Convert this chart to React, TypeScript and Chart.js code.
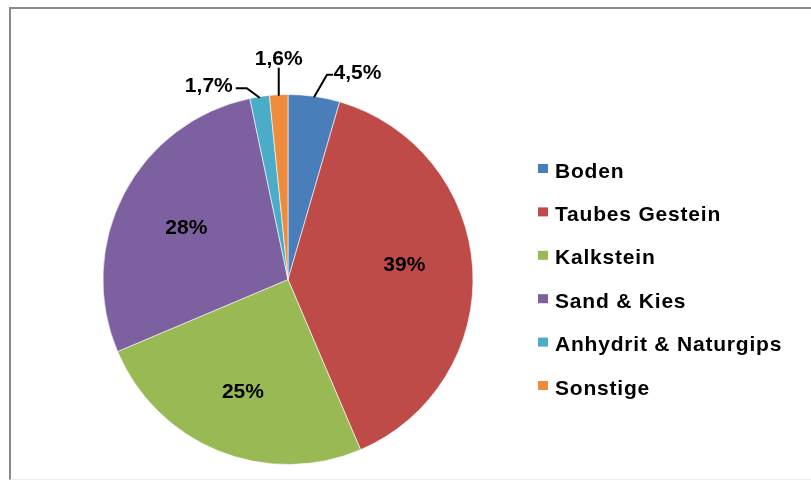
import React, { useEffect, useRef } from "react";
import { Chart, registerables } from "chart.js";

Chart.register(...registerables);

const categories = ["Boden", "Taubes Gestein", "Kalkstein", "Sand & Kies", "Anhydrit & Naturgips", "Sonstige"];
const shares = [4.5, 39, 25, 28, 1.7, 1.6];
const colors = ["#4A7EBB", "#BE4B48", "#98B954", "#7D60A0", "#4AACC6", "#EE8B3D"];

// label placement rules (relative to the arc computed by Chart.js)
const labelStyle: any[] = [
  { type: "out", elbow: [13, -22.5], end: [19, -22.5], text: [19.5, -18], align: "left" },
  { type: "in", f: 0.63, nudge: [0, -9] },
  { type: "in", f: 0.65, nudge: [0, 0] },
  { type: "in", f: 0.62, nudge: [0, 0] },
  { type: "out", elbow: [-13, -9.5], end: [-24, -9.5], text: [-27, -5.5], align: "right" },
  { type: "out", elbow: [0, -28], end: [0, -28], text: [0, -31], align: "center" },
];

const fmt = (v: number) => String(v).replace(".", ",") + "%";
const FONT = 'bold 21px "Liberation Sans", Arial, sans-serif';

const labelPlugin = {
  id: "pieLabels",
  afterDatasetsDraw(chart: any) {
    const ctx = chart.ctx;
    const meta = chart.getDatasetMeta(0);
    const vals = chart.data.datasets[0].data as number[];
    ctx.save();
    ctx.font = FONT;
    ctx.fillStyle = "#000";
    ctx.strokeStyle = "#000";
    ctx.lineWidth = 2;
    meta.data.forEach((arc: any, i: number) => {
      const p = arc.getProps(["x", "y", "startAngle", "endAngle", "outerRadius"], true);
      const mid = (p.startAngle + p.endAngle) / 2;
      const s = labelStyle[i];
      const txt = fmt(vals[i]);
      if (s.type === "in") {
        const r = p.outerRadius * s.f;
        const x = p.x + Math.cos(mid) * r + s.nudge[0];
        const y = p.y + Math.sin(mid) * r + s.nudge[1];
        ctx.textAlign = "center";
        ctx.textBaseline = "alphabetic";
        ctx.fillText(txt, x, y + 7.5);
      } else {
        const ax = p.x + Math.cos(mid) * (p.outerRadius - 1);
        const ay = p.y + Math.sin(mid) * (p.outerRadius - 1);
        ctx.beginPath();
        ctx.moveTo(ax, ay);
        ctx.lineTo(ax + s.elbow[0], ay + s.elbow[1]);
        ctx.lineTo(ax + s.end[0], ay + s.end[1]);
        ctx.stroke();
        ctx.textAlign = s.align;
        ctx.textBaseline = "alphabetic";
        ctx.fillText(txt, ax + s.text[0], ay + s.text[1]);
      }
    });
    ctx.restore();
  },
};

const legendPlugin = {
  id: "sideLegend",
  afterDraw(chart: any) {
    const ctx = chart.ctx;
    const labels = chart.data.labels as string[];
    const bg = chart.data.datasets[0].backgroundColor as string[];
    ctx.save();
    ctx.font = FONT;
    (ctx as any).letterSpacing = "0.8px";
    ctx.textAlign = "left";
    ctx.textBaseline = "alphabetic";
    labels.forEach((lab, i) => {
      const cy = 170 + i * 43.4;
      ctx.fillStyle = bg[i];
      ctx.fillRect(538, cy - 6, 10, 9);
      ctx.fillStyle = "#000";
      ctx.fillText(lab, 555, cy + 7.5);
    });
    ctx.restore();
  },
};

export default function App() {
  const ref = useRef<HTMLCanvasElement>(null);
  useEffect(() => {
    if (!ref.current) return;
    const chart = new Chart(ref.current, {
      type: "pie",
      data: {
        labels: categories,
        datasets: [
          {
            data: shares,
            backgroundColor: colors,
            borderColor: "rgba(255,255,255,0.6)",
            borderWidth: 1,
          },
        ],
      },
      options: {
        responsive: false,
        animation: false,
        layout: { padding: { left: 102, top: 94, right: 337, bottom: 15 } },
        plugins: {
          legend: { display: false },
          tooltip: { enabled: false },
        },
      },
      plugins: [labelPlugin, legendPlugin],
    });
    return () => chart.destroy();
  }, []);
  return (
    <div style={{ position: "fixed", left: 0, top: 0, width: 811, height: 480, background: "#fff", overflow: "hidden" }}>
      <div
        style={{
          position: "absolute",
          left: 9,
          top: 7,
          width: 900,
          height: 470,
          borderTop: "2px solid #8a8a8a",
          borderLeft: "2px solid #8a8a8a",
          borderBottom: "1px solid #eeeeee",
        }}
      />
      <canvas ref={ref} width={811} height={480} style={{ position: "absolute", left: 0, top: 0 }} />
    </div>
  );
}
